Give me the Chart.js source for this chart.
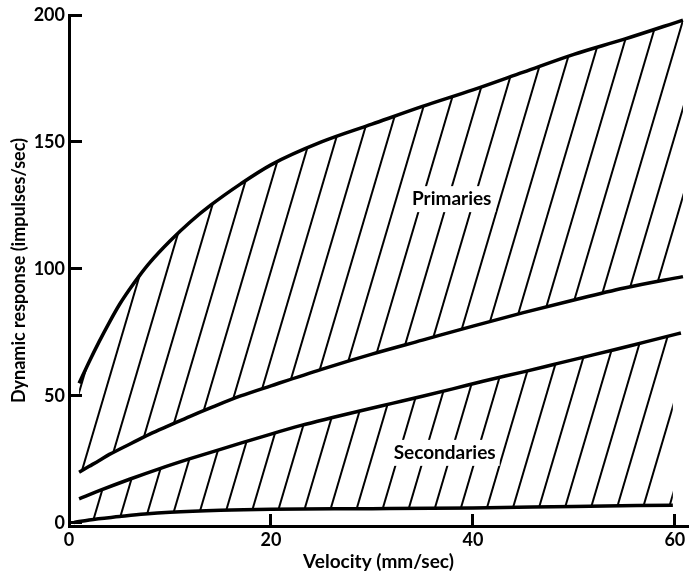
<!DOCTYPE html>
<html>
<head>
<meta charset="utf-8">
<script src="https://cdn.jsdelivr.net/npm/chart.js@4/dist/chart.umd.min.js"></script>
<style>
  html, body { margin: 0; padding: 0; background: #fff; }
  #wrap { width: 690px; height: 578px; }
</style>
</head>
<body>
<div id="wrap"><canvas id="chart" width="690" height="578"></canvas></div>
<script>
// values (velocity in mm/sec, response in impulses/sec)
const primariesX = [1, 2, 3, 4, 5, 6, 7, 8, 10, 12, 14, 17, 20, 25, 30, 35, 40, 45, 50, 55, 60.8]
const primariesUpper = [55, 63.5, 71.5, 79, 86, 92, 97.5, 102.5, 111, 118.5, 125, 133.5, 141, 150, 157, 164, 170.5, 177.5, 184.5, 190.5, 198]
const primariesLower = [20, 22.3, 24.6, 27, 29, 31, 33, 35, 38.5, 42, 45.3, 50, 54, 60.5, 66.5, 72, 77.5, 82.8, 87.8, 92.5, 97]

const secondariesX = [1, 3, 6, 9, 12, 15, 18, 20, 23, 26, 29, 32, 35, 38, 41, 45, 48, 51, 54, 57, 60.6]
const secondariesUpper = [9.5, 12.7, 17.2, 21.4, 25.3, 29, 32.6, 35, 38.4, 41.4, 44.3, 47.1, 49.9, 52.8, 55.8, 59.5, 62.4, 65.3, 68.2, 71.2, 74.8]
const secondariesBaseX = [0.5, 2, 5, 7.5, 10, 15, 20, 30, 40, 50, 59.8]
const secondariesLower = [0.2, 1.2, 2.5, 3.5, 4.2, 5, 5.4, 5.6, 5.9, 6.5, 7]

const xTicks = [0, 20, 40, 60]
const yTicks = [0, 50, 100, 150, 200]

const bandLabels = [
  { text: 'Primaries', x: 37.9, y: 127.5 },
  { text: 'Secondaries', x: 37.2, y: 27.6 }
]

const FONT = 'Lato, "Open Sans", sans-serif'

function pts(xs, ys) {
  return xs.map((x, i) => ({ x: x, y: ys[i] }))
}

// diagonal hatching used to fill the two bands
function hatchPattern() {
  const W = 26, H = 88, p = 13
  const c = document.createElement('canvas')
  c.width = W
  c.height = H
  const g = c.getContext('2d')
  g.strokeStyle = '#000'
  g.lineWidth = 2
  const ext = 20
  for (let k = -1; k <= 2; k++) {
    const x0 = p + k * W
    g.beginPath()
    g.moveTo(x0 + ext * W / H, -ext)
    g.lineTo(x0 - W - ext * W / H, H + ext)
    g.stroke()
  }
  return g.createPattern(c, 'repeat')
}

const hatch = hatchPattern()

const curve = {
  borderColor: '#000',
  borderWidth: 3.5,
  pointRadius: 0,
  cubicInterpolationMode: 'monotone'
}

const bandLabelPlugin = {
  id: 'bandLabels',
  afterDatasetsDraw(chart) {
    const { ctx, scales } = chart
    ctx.save()
    ctx.font = 'bold 19px ' + FONT
    ctx.textAlign = 'center'
    ctx.textBaseline = 'middle'
    bandLabels.forEach(l => {
      const px = scales.x.getPixelForValue(l.x)
      const py = scales.y.getPixelForValue(l.y)
      const w = ctx.measureText(l.text).width
      ctx.fillStyle = '#fff'
      ctx.fillRect(px - w / 2 - 4, py - 13, w + 8, 26)
      ctx.fillStyle = '#000'
      ctx.fillText(l.text, px, py)
    })
    ctx.restore()
  }
}

new Chart(document.getElementById('chart'), {
  type: 'line',
  data: {
    datasets: [
      { ...curve, label: 'Primaries upper', data: pts(primariesX, primariesUpper), fill: '+1', backgroundColor: hatch },
      { ...curve, label: 'Primaries lower', data: pts(primariesX, primariesLower), fill: false },
      { ...curve, label: 'Secondaries upper', data: pts(secondariesX, secondariesUpper), fill: '+1', backgroundColor: hatch },
      { ...curve, label: 'Secondaries lower', data: pts(secondariesBaseX, secondariesLower), fill: false }
    ]
  },
  options: {
    responsive: false,
    animation: false,
    layout: { padding: { top: 15, right: 2, left: 0, bottom: 0 } },
    plugins: {
      legend: { display: false },
      tooltip: { enabled: false }
    },
    scales: {
      x: {
        type: 'linear',
        min: 0,
        max: 61.3,
        afterBuildTicks: s => { s.ticks = xTicks.map(v => ({ value: v })) },
        afterFit: s => { s.height = 52; s.paddingLeft = 0; s.paddingRight = 0 },
        grid: { drawOnChartArea: false, tickLength: -12, tickWidth: 3, tickColor: '#000' },
        border: { color: '#000', width: 3 },
        ticks: { color: '#000', padding: 15, maxRotation: 0, font: { family: FONT, size: 18, weight: 'bold' } },
        title: {
          display: true,
          text: 'Velocity (mm/sec)',
          color: '#000',
          font: { family: FONT, size: 19, weight: 'bold' },
          padding: { top: 0, bottom: 5 }
        }
      },
      y: {
        min: -1.2,
        max: 200,
        afterBuildTicks: s => { s.ticks = yTicks.map(v => ({ value: v })) },
        afterFit: s => { s.width = 69; s.paddingTop = 0; s.paddingBottom = 0 },
        grid: { drawOnChartArea: false, tickLength: -13, tickWidth: 3, tickColor: '#000' },
        border: { color: '#000', width: 3 },
        ticks: { color: '#000', padding: 17, font: { family: FONT, size: 18, weight: 'bold' } },
        title: {
          display: true,
          text: 'Dynamic response (impulses/sec)',
          color: '#000',
          font: { family: FONT, size: 18, weight: 'bold' },
          padding: { top: 8, bottom: 0 }
        }
      }
    }
  },
  plugins: [bandLabelPlugin]
})
</script>
</body>
</html>
